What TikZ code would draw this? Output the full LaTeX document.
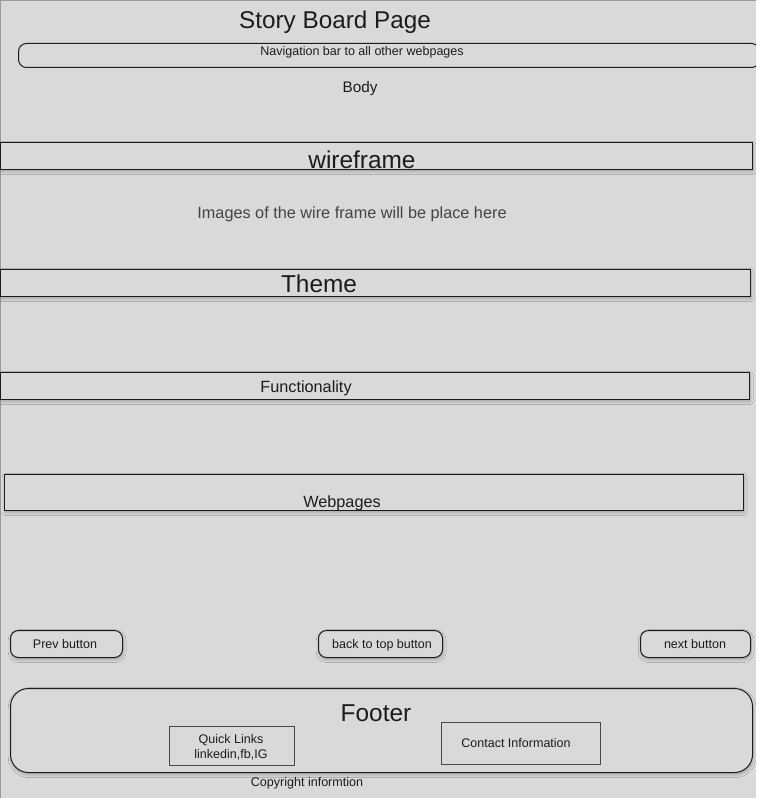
\documentclass[tikz,border=0pt]{standalone}
\usepackage{fontspec}
\setmainfont{Liberation Sans}
\usetikzlibrary{shadows.blur}
\definecolor{canvas}{HTML}{D9D9D9}
\definecolor{frameedge}{HTML}{9A9A9A}
\definecolor{ink}{HTML}{1C1C1C}
\definecolor{softink}{HTML}{444444}
\newdimen\px \px=0.75pt
\begin{document}
\begin{tikzpicture}[x=0.75pt,y=-0.75pt,
  lift/.style={blur shadow={shadow xshift=0.5pt, shadow yshift=-1.6pt, shadow blur radius=2.2pt, shadow blur steps=8, shadow opacity=25}},
  flatpanel/.style={draw=ink, line width=1\px, fill=canvas, anchor=north west, inner sep=0pt},
  panel/.style={flatpanel, lift},
  pill/.style={panel, rounded corners=8\px},
  plainbox/.style={draw=ink!80, line width=1\px, fill=canvas, anchor=north west, inner sep=0pt},
  txt/.style={text=ink, inner sep=0pt, anchor=base},
  big/.style={txt, font=\fontsize{18.3pt}{20pt}\selectfont},
  mid/.style={txt, font=\fontsize{12.2pt}{14pt}\selectfont},
  small/.style={txt, font=\fontsize{9.4pt}{11pt}\selectfont},
]
% page
\fill[canvas] (0,0) rectangle (756,798);
\useasboundingbox (0,0) rectangle (756,798);
\draw[frameedge, line width=1.5\px] (0,0.5) -- (756,0.5);
\draw[frameedge, line width=1.5\px] (0.5,0) -- (0.5,798);

\begin{scope}
\clip (0,0) rectangle (756,798);
% heading and navigation
\node[txt, font=\fontsize{18.2pt}{20pt}\selectfont] (title) at (335,29) {Story Board Page};
\node[flatpanel, rounded corners=8\px, minimum width=741\px, minimum height=24\px] (nav) at (18,43) {};
\node[small] (navtext) at (362,56) {Navigation bar to all other webpages};
\node[txt, font=\fontsize{11.5pt}{13pt}\selectfont] (body) at (360,93) {Body};

% content sections
\node[panel, minimum width=752\px, minimum height=27\px] (wire) at (0,142) {};
\node[big] (wiretext) at (362,169) {wireframe};
\node[txt, text=softink, font=\fontsize{12.2pt}{14pt}\selectfont] (images) at (352,219) {Images of the wire frame will be place here};

\node[panel, minimum width=750\px, minimum height=27\px] (theme) at (0,269) {};
\node[big] (themetext) at (319,292) {Theme};

\node[panel, minimum width=749\px, minimum height=27\px] (func) at (0,372) {};
\node[mid] (functext) at (306,392) {Functionality};

\node[panel, minimum width=739\px, minimum height=36\px] (pages) at (4,474) {};
\node[mid] (pagestext) at (342,507) {Webpages};

% page buttons
\node[pill, minimum width=112\px, minimum height=27\px] (prev) at (10,630) {};
\node[small] (prevtext) at (65,648) {Prev button};
\node[pill, minimum width=124\px, minimum height=27\px] (top) at (318,630) {};
\node[small] (toptext) at (382,648) {back to top button};
\node[pill, minimum width=110\px, minimum height=27\px] (next) at (640,630) {};
\node[small] (nexttext) at (695,648) {next button};

% footer
\node[panel, rounded corners=18\px, minimum width=742\px, minimum height=84\px] (footer) at (10,688) {};
\node[big] (footertext) at (376,721) {Footer};
\node[plainbox, minimum width=125\px, minimum height=39\px] (links) at (169,726) {};
\node[small] (linkstext1) at (231,743) {Quick Links};
\node[small] (linkstext2) at (231,758) {linkedin,fb,IG};
\node[plainbox, minimum width=159\px, minimum height=42\px] (contact) at (441,722) {};
\node[small] (contacttext) at (516,747) {Contact Information};
\node[small] (copyright) at (307,786) {Copyright informtion};
\end{scope}
\end{tikzpicture}
\end{document}
